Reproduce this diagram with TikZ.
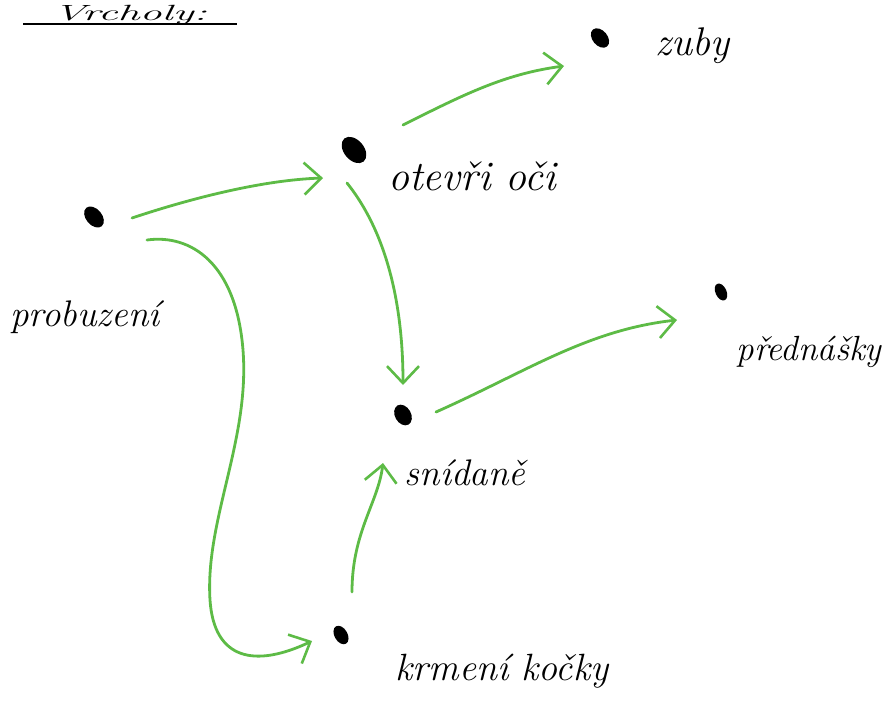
\documentclass[tikz,border=0pt]{standalone}
\usetikzlibrary{arrows.meta,calc}
\definecolor{pen}{HTML}{5DBB46}
\begin{document}
\begin{tikzpicture}[x=1pt,y=-1pt,
  lbl/.style={font=\fontsize{#1}{#1}\selectfont\itshape,inner sep=0pt,anchor=base},
  arr/.style={draw=pen,line width=2.8pt,line cap=round,line join=round,
    -{Straight Barb[length=17pt,width=32pt,line width=2.6pt]}}]
\useasboundingbox (0,0) rectangle (884,702);
% vertices (dots)
\fill[rotate around={-50:(94,217)}] (94,217) ellipse (12 and 8);
\coordinate (p) at (94,217);
\fill[rotate around={-50:(354,150)}] (354,150) ellipse (15 and 10);
\coordinate (o) at (354,150);
\fill[rotate around={-50:(600,38)}] (600,38) ellipse (11 and 7.5);
\coordinate (z) at (600,38);
\fill[rotate around={-65:(721,292)}] (721,292) ellipse (9 and 5.5);
\coordinate (d) at (721,292);
\fill[rotate around={-60:(403,415)}] (403,415) ellipse (11 and 8);
\coordinate (s) at (403,415);
\fill[rotate around={-60:(341,635)}] (341,635) ellipse (10 and 6.5);
\coordinate (k) at (341,635);
% labels
\node[lbl=22] (tt) at (130,20) {\scalebox{2}[1]{Vrcholy:}};
\draw[line width=2.5pt] (23,24) -- (237,24);
\node[lbl=37] (lp) at (85,326) {probuzení};
\node[lbl=42] (lo) at (472,190) {otevři oči};
\node[lbl=40] (lz) at (692,55) {zuby};
\node[lbl=35] (ld) at (809,360) {přednášky};
\node[lbl=37] (ls) at (465,485) {snídaně};
\node[lbl=38] (lk) at (502,680) {krmení kočky};
% connectors
\draw[arr] (p) ++(38,1) .. controls +(60,-20) and +(-60,2) .. (323,178);
\draw[arr] (o) ++(49,-25) .. controls +(60,-30) and +(-60,8) .. (564,66);
\draw[arr] (o) ++(-7,33) .. controls +(40,50) and +(0,-80) .. (403,385);
\draw[arr] (s) ++(33,-3) .. controls +(90,-40) and +(-90,10) .. (677,320);
\draw[arr] (k) ++(11,-43) .. controls +(0,-60) and +(-5,40) .. (383,463);
\draw[arr] (p) ++(53,23) .. controls (190,234) and (236,262) .. (243,350)
  .. controls (250,440) and (205,520) .. (210,600)
  .. controls (214,660) and (255,668) .. (312,641);
\end{tikzpicture}
\end{document}
